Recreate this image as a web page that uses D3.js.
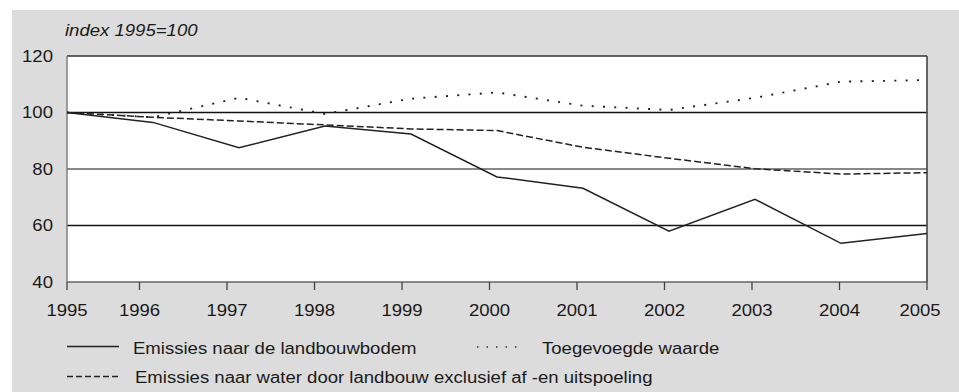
<!DOCTYPE html>
<html>
<head>
<meta charset="utf-8">
<script src="https://cdn.jsdelivr.net/npm/d3@7/dist/d3.min.js"></script>
<style>
  html, body { margin: 0; padding: 0; background: #ffffff; }
  svg { display: block; }
  text { font-family: "Liberation Sans", Arial, Helvetica, sans-serif; fill: #1a1a1a; }
</style>
</head>
<body>
<svg id="chart" width="959" height="392"></svg>
<script>
// ---- data ----
const years = [1995, 1996, 1997, 1998, 1999, 2000, 2001, 2002, 2003, 2004, 2005];
const bodem  = [100, 96.5, 87.5, 95.2, 92.4, 77.2, 73.2, 58.0, 69.3, 53.7, 57.2];
const water  = [100, 98.3, 97.0, 95.6, 94.2, 93.6, 87.7, 83.8, 80.1, 78.2, 78.7];
const waarde = [100, 98.3, 105.2, 99.5, 104.9, 107.1, 102.4, 100.9, 105.2, 110.9, 111.5];
const yTicks = [40, 60, 80, 100, 120];
const seriesNames = [
  "Emissies naar de landbouwbodem",
  "Toegevoegde waarde",
  "Emissies naar water door landbouw exclusief af -en uitspoeling"
];
const yTitle = "index 1995=100";

// ---- layout ----
const svg = d3.select("#chart");
const L = 67, R = 927, T = 56, B = 282;
const SX = 1.16, FS = 16;

svg.append("rect").attr("x", 12).attr("y", 10).attr("width", 947).attr("height", 382).attr("fill", "#dcdcdc");
svg.append("rect").attr("x", L).attr("y", T).attr("width", R - L).attr("height", B - T).attr("fill", "#ffffff");

const x = d3.scaleLinear().domain([1995, 2005]).range([L, R]);
const y = d3.scaleLinear().domain([40, 120]).range([B, T]);
// tick positions (axis ticks offset as in the original)
const xt = d3.scaleLinear().domain([1996, 2005]).range([139.5, R]);
const tickPos = v => v === years[0] ? x(v) : xt(v);

function txt(g, s, px, py, anchor, italic) {
  const t = g.append("text")
    .attr("transform", `translate(${px},${py}) scale(${SX},1)`)
    .attr("font-size", FS)
    .attr("text-anchor", anchor || "start")
    .text(s);
  if (italic) t.attr("font-style", "italic");
  return t;
}

// gridlines
const gridStyle = {40: ["#666", 1.6], 60: ["#111", 1.3], 80: ["#888", 1.8], 100: ["#111", 1.4], 120: ["#333", 1.6]};
yTicks.forEach(v => {
  svg.append("line").attr("x1", L).attr("x2", R).attr("y1", y(v)).attr("y2", y(v))
    .attr("stroke", gridStyle[v][0]).attr("stroke-width", gridStyle[v][1]);
});
// left / right borders
svg.append("line").attr("x1", L).attr("x2", L).attr("y1", T).attr("y2", B).attr("stroke", "#777").attr("stroke-width", 1.4);
svg.append("line").attr("x1", R).attr("x2", R).attr("y1", T).attr("y2", B).attr("stroke", "#444").attr("stroke-width", 1.6);

// y labels
const gy = svg.append("g");
yTicks.forEach(v => txt(gy, String(v), 53, y(v) + 5.5, "end"));
txt(svg, yTitle, 65, 36, "start", true);

// x ticks + labels
const gx = svg.append("g");
years.forEach((v, i) => {
  const px = tickPos(v);
  gx.append("line").attr("x1", px).attr("x2", px).attr("y1", B).attr("y2", B + 8)
    .attr("stroke", "#444").attr("stroke-width", 1.3);
  txt(gx, String(v), px + (i === years.length - 1 ? -7 : 0), 316, "middle");
});

// series lines
const line = d3.line().x((d, i) => x(years[i])).y(d => y(d));
svg.append("path").datum(waarde).attr("d", line).attr("fill", "none")
  .attr("stroke", "#222").attr("stroke-width", 1.9).attr("stroke-dasharray", "2,9.3");
svg.append("path").datum(water).attr("d", line).attr("fill", "none")
  .attr("stroke", "#222").attr("stroke-width", 1.5).attr("stroke-dasharray", "7,3");
svg.append("path").datum(bodem).attr("d", line).attr("fill", "none")
  .attr("stroke", "#222").attr("stroke-width", 1.5);

// legend
const lg = svg.append("g");
lg.append("line").attr("x1", 67).attr("x2", 119).attr("y1", 346.5).attr("y2", 346.5)
  .attr("stroke", "#222").attr("stroke-width", 1.4);
txt(lg, seriesNames[0], 133, 353.5, "start");
lg.append("line").attr("x1", 477).attr("x2", 518).attr("y1", 347).attr("y2", 347)
  .attr("stroke", "#333").attr("stroke-width", 1.3).attr("stroke-dasharray", "1.5,8");
txt(lg, seriesNames[1], 542, 353.5, "start");
lg.append("line").attr("x1", 67).attr("x2", 119).attr("y1", 376.5).attr("y2", 376.5)
  .attr("stroke", "#222").attr("stroke-width", 1.4).attr("stroke-dasharray", "6,3");
txt(lg, seriesNames[2], 135, 382.5, "start");
</script>
</body>
</html>
